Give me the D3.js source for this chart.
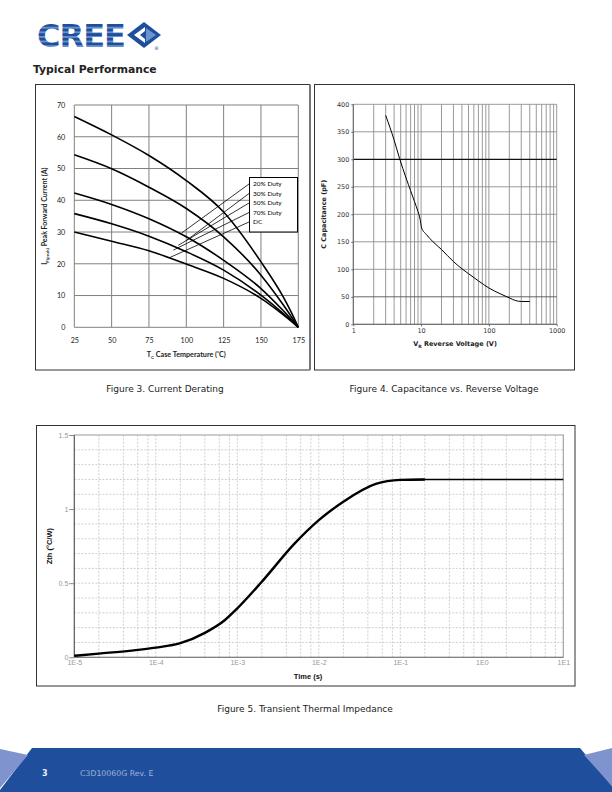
<!DOCTYPE html>
<html><head><meta charset="utf-8">
<script src="https://cdn.jsdelivr.net/npm/d3@7"></script>
<style>body{margin:0;background:#fff}svg{display:block}</style>
</head><body>
<script>
// ---------- DATA ----------
// Figure 3: current derating
const tempC = [25, 50, 75, 100, 125, 150, 165, 170, 175];
const duty20 = [66.4, 60.6, 54.1, 46.2, 36.3, 20.6, 9.5, 5.0, 0];
const duty30 = [54.3, 49.9, 44.1, 37.4, 28.5, 16.4, 7.0, 3.6, 0];
const duty50 = [42.3, 38.7, 34.2, 28.5, 21.1, 12.2, 5.2, 2.7, 0];
const duty70 = [35.8, 32.6, 28.7, 23.8, 18.0, 10.1, 4.3, 2.2, 0];
const dutyDC = [30.0, 27.1, 24.1, 19.9, 15.4, 9.1, 3.9, 2.0, 0];
const derateNames = ["20% Duty", "30% Duty", "50% Duty", "70% Duty", "DC"];
const leaderEndT = [96.9, 100.2, 94.6, 91.3, 89.1];
const leaderEndI = [29.7, 27.4, 25.8, 24.3, 22.0];
const fig3XTicks = [25, 50, 75, 100, 125, 150, 175];
const fig3YTicks = [0, 10, 20, 30, 40, 50, 60, 70];

// Figure 4: capacitance vs reverse voltage
const vr = [3, 4, 4.8, 6, 7, 8, 9, 9.6, 10.2, 12, 15, 20, 30, 40, 50, 70, 100, 150, 200, 250, 300, 400];
const capPF = [380, 335, 302, 266, 243, 223, 205, 193, 175, 163, 150, 136, 114, 101, 92, 79, 66, 55, 48, 43, 41.5, 41.5];
const fig4XTicks = [1, 10, 100, 1000];
const fig4YTicks = [0, 50, 100, 150, 200, 250, 300, 350, 400];

// Figure 5: transient thermal impedance
const timeS = [1e-5, 2e-5, 5e-5, 1e-4, 2e-4, 4e-4, 7e-4, 1e-3, 2e-3, 5e-3, 1e-2, 2e-2, 5e-2, 1e-1, 2e-1, 1, 10];
const zth = [0.01, 0.025, 0.045, 0.065, 0.095, 0.165, 0.25, 0.33, 0.51, 0.765, 0.925, 1.05, 1.17, 1.197, 1.2, 1.2, 1.2];
const fig5XTicks = [1e-5, 1e-4, 1e-3, 1e-2, 1e-1, 1, 10];
const fig5XLabels = ["1E-5", "1E-4", "1E-3", "1E-2", "1E-1", "1E0", "1E1"];
const fig5YTicks = [0, 0.5, 1, 1.5];
const fig5YLabels = ["0", "0.5", "1", "1.5"];

// ---------- PAGE ----------
const svg = d3.select("body").append("svg").attr("width", 612).attr("height", 792);
const blue = "#1f4f9c";

// Logo
const defs = svg.append("defs");
const pat = defs.append("pattern").attr("id", "stripes").attr("patternUnits", "userSpaceOnUse")
  .attr("width", 10).attr("height", 4.6).attr("y", 24);
pat.append("rect").attr("width", 10).attr("height", 4.6).attr("fill", "#6a93cf");
pat.append("rect").attr("width", 10).attr("height", 2.8).attr("fill", blue);
svg.append("text").attr("x", 37).attr("y", 47).attr("font-family", "DejaVu Sans").attr("font-weight", "bold")
  .attr("font-size", 32).attr("fill", "url(#stripes)").attr("letter-spacing", -1).text("CREE");
svg.append("path").attr("d", "M127,35 L144,22 L161,35 L144,48 Z").attr("fill", blue);
svg.append("path").attr("d", "M134,35 L145,27 L145,31 L140,35 L145,39 L145,43 Z").attr("fill", "#fff");
svg.append("path").attr("d", "M146,28 L156,35 L146,42 Z").attr("fill", "#6a93cf");
svg.append("text").attr("x", 154).attr("y", 50).attr("font-size", 5).attr("font-family", "DejaVu Sans").attr("fill", blue).text("®");

svg.append("text").attr("x", 33).attr("y", 73).attr("font-family", "DejaVu Sans").attr("font-weight", "bold")
  .attr("font-size", 10.8).attr("fill", "#222").text("Typical Performance");

// Footer
svg.append("polygon").attr("points", "32,748 580,748 612,786 612,792 0,792 0,790").attr("fill", blue);
svg.append("polygon").attr("points", "0,749 28,755 0,788").attr("fill", "#7f93cf");
svg.append("polygon").attr("points", "584,755 612,748 612,786").attr("fill", "#7f93cf");
svg.append("text").attr("x", 42).attr("y", 776).attr("font-family", "DejaVu Sans").attr("font-weight", "bold")
  .attr("font-size", 8).attr("fill", "#e8ecf6").text("3");
svg.append("text").attr("x", 80).attr("y", 776).attr("font-family", "DejaVu Sans")
  .attr("font-size", 7.8).attr("fill", "#9fb2da").text("C3D10060G Rev. E");

// Captions
const cap = (x, y, t) => svg.append("text").attr("x", x).attr("y", y).attr("text-anchor", "middle")
  .attr("font-family", "DejaVu Sans").attr("font-size", 9).attr("fill", "#222").text(t);
cap(165, 391.5, "Figure 3. Current Derating");
cap(444, 391.5, "Figure 4. Capacitance vs. Reverse Voltage");
cap(305, 712, "Figure 5. Transient Thermal Impedance");

// Boxes
svg.append("rect").attr("x", 35.5).attr("y", 84.5).attr("width", 274).attr("height", 285.5).attr("fill", "none").attr("stroke", "#333");
svg.append("line").attr("x1", 310).attr("x2", 310).attr("y1", 84.5).attr("y2", 370).attr("stroke", "#777").attr("stroke-width", 2);
svg.append("rect").attr("x", 314.5).attr("y", 84.5).attr("width", 260).attr("height", 285.5).attr("fill", "none").attr("stroke", "#333");
svg.append("rect").attr("x", 36.5).attr("y", 425.5).attr("width", 538.5).attr("height", 260.5).attr("fill", "none").attr("stroke", "#333");

// ---------- FIGURE 3 ----------
{
  const x = d3.scaleLinear().domain([25, 175]).range([74.3, 298.3]);
  const y = d3.scaleLinear().domain([0, 70]).range([327.3, 105]);
  const g = svg.append("g");
  g.selectAll(".vg").data(fig3XTicks).join("line").attr("x1", d => x(d)).attr("x2", d => x(d))
    .attr("y1", y(0)).attr("y2", y(70)).attr("stroke", "#808080").attr("stroke-width", 1);
  g.selectAll(".hg").data(fig3YTicks).join("line").attr("x1", x(25)).attr("x2", x(175))
    .attr("y1", d => y(d)).attr("y2", d => y(d)).attr("stroke", "#808080").attr("stroke-width", 1);
  const ax = g.append("g").attr("transform", `translate(0,${y(0) + 7})`)
    .call(d3.axisBottom(x).tickValues(fig3XTicks).tickSize(0).tickPadding(4));
  ax.select(".domain").remove();
  ax.selectAll("text").attr("font-family", "Lato").attr("font-size", 7.2).attr("fill", "#222");
  const ay = g.append("g").attr("transform", `translate(${x(25) - 6},0)`)
    .call(d3.axisLeft(y).tickValues(fig3YTicks).tickSize(0).tickPadding(3));
  ay.select(".domain").remove();
  ay.selectAll("text").attr("font-family", "Lato").attr("font-size", 7.2).attr("fill", "#222");

  const series = [duty20, duty30, duty50, duty70, dutyDC];
  const line = d3.line().x((d, i) => x(tempC[i])).y(d => y(d)).curve(d3.curveMonotoneX);
  g.selectAll(".crv").data(series).join("path").attr("d", line).attr("fill", "none")
    .attr("stroke", "#000").attr("stroke-width", 1.6);

  // legend
  const lx = 249, ly0 = 184, ldy = 9.5;
  g.append("rect").attr("x", lx + 0.5).attr("y", 177.5).attr("width", 48).attr("height", 54.5)
    .attr("fill", "#fff").attr("stroke", "#000");
  derateNames.forEach((n, i) => {
    g.append("line").attr("x1", lx).attr("y1", ly0 + i * ldy)
      .attr("x2", x(leaderEndT[i])).attr("y2", y(leaderEndI[i])).attr("stroke", "#000").attr("stroke-width", 0.8);
    g.append("text").attr("x", lx + 4).attr("y", ly0 + i * ldy + 2.3).attr("font-family", "Lato")
      .attr("font-size", 6.5).attr("fill", "#000").text(n);
  });

  const yl = g.append("text").attr("transform", `translate(47,${(y(0) + y(70)) / 2}) rotate(-90)`)
    .attr("text-anchor", "middle").attr("font-family", "Lato").attr("font-weight", "bold").attr("font-size", 7).attr("fill", "#222");
  yl.append("tspan").text("I");
  yl.append("tspan").attr("font-size", 4.5).attr("dy", 1.5).text("F(peak)");
  yl.append("tspan").attr("dy", -1.5).text(" Peak Forward Current (A)");
  const xl = g.append("text").attr("x", (x(25) + x(175)) / 2).attr("y", 357)
    .attr("text-anchor", "middle").attr("font-family", "Lato").attr("font-weight", "bold").attr("font-size", 7.2).attr("fill", "#222");
  xl.append("tspan").text("T");
  xl.append("tspan").attr("font-size", 4.5).attr("dy", 1.5).text("C");
  xl.append("tspan").attr("dy", -1.5).text(" Case Temperature (");
  xl.append("tspan").attr("font-size", 5).attr("dy", -2).text("°");
  xl.append("tspan").attr("dy", 2).text("C)");
}

// ---------- FIGURE 4 ----------
{
  const x = d3.scaleLog().domain([1, 1000]).range([353.3, 556.7]);
  const y = d3.scaleLinear().domain([0, 400]).range([324.3, 104.3]);
  const g = svg.append("g");
  const minor = [];
  [1, 10, 100].forEach(dec => { for (let k = 1; k <= 9; k++) minor.push(dec * k); });
  minor.push(1000);
  g.selectAll(".vg").data(minor).join("line").attr("x1", d => x(d)).attr("x2", d => x(d))
    .attr("y1", y(0)).attr("y2", y(400)).attr("stroke", "#8f8f8f").attr("stroke-width", 0.9);
  g.selectAll(".hg").data(fig4YTicks).join("line").attr("x1", x(1)).attr("x2", x(1000))
    .attr("y1", d => y(d)).attr("y2", d => y(d))
    .attr("stroke", d => d === 300 ? "#111" : (d === 50 ? "#555" : "#8f8f8f")).attr("stroke-width", d => d === 300 ? 1.2 : 0.9);
  g.append("line").attr("x1", x(1)).attr("x2", x(1)).attr("y1", y(0)).attr("y2", y(400)).attr("stroke", "#666");
  g.append("line").attr("x1", x(1)).attr("x2", x(1000)).attr("y1", y(0)).attr("y2", y(0)).attr("stroke", "#666");
  const ax = g.append("g").attr("transform", `translate(0,${y(0)})`)
    .call(d3.axisBottom(x).tickValues(fig4XTicks).tickFormat(d3.format("d")).tickSize(2).tickPadding(2));
  ax.select(".domain").remove();
  ax.selectAll("line").attr("stroke", "#666");
  ax.selectAll("text").attr("font-family", "DejaVu Sans").attr("font-size", 6.5).attr("fill", "#333");
  const ay = g.append("g").attr("transform", `translate(${x(1)},0)`)
    .call(d3.axisLeft(y).tickValues(fig4YTicks).tickSize(2).tickPadding(2));
  ay.select(".domain").remove();
  ay.selectAll("line").attr("stroke", "#666");
  ay.selectAll("text").attr("font-family", "DejaVu Sans").attr("font-size", 6.5).attr("fill", "#333");

  const line = d3.line().x((d, i) => x(vr[i])).y(d => y(d)).curve(d3.curveMonotoneX);
  g.append("path").datum(capPF).attr("d", line).attr("fill", "none").attr("stroke", "#000").attr("stroke-width", 1);

  g.append("text").attr("transform", `translate(326,${(y(0) + y(400)) / 2}) rotate(-90)`)
    .attr("text-anchor", "middle").attr("font-family", "DejaVu Sans").attr("font-weight", "bold").attr("font-size", 6.5)
    .attr("fill", "#222").text("C Capacitance (pF)");
  const xl = g.append("text").attr("x", (x(1) + x(1000)) / 2).attr("y", 346).attr("text-anchor", "middle")
    .attr("font-family", "DejaVu Sans").attr("font-weight", "bold").attr("font-size", 6.5).attr("fill", "#222");
  xl.append("tspan").text("V");
  xl.append("tspan").attr("font-size", 4.5).attr("dy", 1.5).text("R");
  xl.append("tspan").attr("dy", -1.5).text(" Reverse Voltage (V)");
}

// ---------- FIGURE 5 ----------
{
  const x = d3.scaleLog().domain([1e-5, 10]).range([74.3, 563.3]);
  const y = d3.scaleLinear().domain([0, 1.5]).range([657.3, 435]);
  const g = svg.append("g");
  const vlines = [];
  fig5XTicks.slice(0, -1).forEach(dec => [2, 4, 6, 8, 10].forEach(k => vlines.push(dec * k)));
  g.selectAll(".vg").data(vlines).join("line").attr("x1", d => x(d)).attr("x2", d => x(d))
    .attr("y1", y(0)).attr("y2", y(1.5)).attr("stroke", "#c4c4c4").attr("stroke-width", 0.8).attr("stroke-dasharray", "2,1.5");
  const hl = d3.range(1, 15).map(i => i / 10);
  g.selectAll(".hg").data(hl).join("line").attr("x1", x(1e-5)).attr("x2", x(10))
    .attr("y1", d => y(d)).attr("y2", d => y(d)).attr("stroke", "#c4c4c4").attr("stroke-width", 0.8).attr("stroke-dasharray", "2,1.5");
  g.append("rect").attr("x", x(1e-5)).attr("y", y(1.5)).attr("width", x(10) - x(1e-5)).attr("height", y(0) - y(1.5))
    .attr("fill", "none").attr("stroke", "#999");
  g.append("line").attr("x1", x(1e-5)).attr("x2", x(1e-5)).attr("y1", y(0)).attr("y2", y(1.5)).attr("stroke", "#555");
  g.append("line").attr("x1", x(1e-5)).attr("x2", x(10)).attr("y1", y(0)).attr("y2", y(0)).attr("stroke", "#777");
  const ay = g.append("g").attr("transform", `translate(${x(1e-5)},0)`)
    .call(d3.axisLeft(y).tickValues(fig5YTicks).tickFormat((d, i) => fig5YLabels[i]).tickSize(5).tickPadding(1));
  ay.select(".domain").remove();
  ay.selectAll("line").attr("stroke", "#888");
  ay.selectAll("text").attr("font-family", "Liberation Sans").attr("font-size", 7).attr("fill", "#999");
  const ax = g.append("g").attr("transform", `translate(0,${y(0)})`)
    .call(d3.axisBottom(x).tickValues(fig5XTicks).tickFormat((d, i) => fig5XLabels[i]).tickSize(0).tickPadding(3));
  ax.select(".domain").remove();
  ax.selectAll("text").attr("font-family", "Liberation Sans").attr("font-size", 7).attr("fill", "#999");

  const idx = zth.map((z, i) => i);
  const line = d3.line().x(i => x(timeS[i])).y(i => y(zth[i])).curve(d3.curveMonotoneX);
  const idxSplit = timeS.indexOf(1e-1);
  g.append("path").attr("d", line(idx.slice(0, idxSplit + 2)))
    .attr("fill", "none").attr("stroke", "#000").attr("stroke-width", 2.4);
  g.append("path").attr("d", line(idx.slice(idxSplit)))
    .attr("fill", "none").attr("stroke", "#000").attr("stroke-width", 1.4);

  g.append("text").attr("x", 308).attr("y", 679).attr("text-anchor", "middle").attr("font-family", "Liberation Sans")
    .attr("font-weight", "bold").attr("font-size", 7.5).attr("fill", "#111").text("Time (s)");
  g.append("text").attr("transform", `translate(52,${(y(0) + y(1.5)) / 2}) rotate(-90)`).attr("text-anchor", "middle")
    .attr("font-family", "Liberation Sans").attr("font-weight", "bold").attr("font-size", 7.5).attr("fill", "#111").text("Zth (°C/W)");
}
</script>
</body></html>
